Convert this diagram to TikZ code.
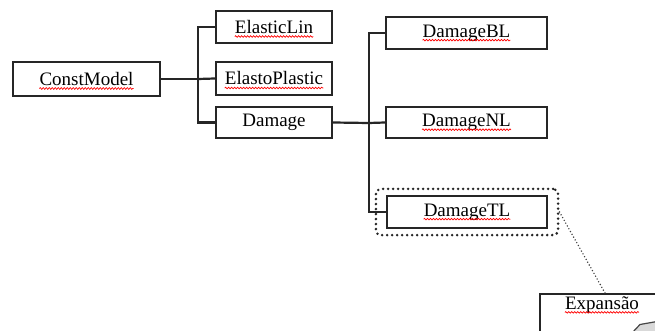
\documentclass[tikz,border=0pt]{standalone}
\usepackage{fontspec}
\newfontfamily\tnr{Liberation Serif}
\usetikzlibrary{fit,decorations.pathmorphing}
\begin{document}
\begin{tikzpicture}[x=1pt,y=-1pt,
  box/.style={draw=black!85, line width=2.2pt, fill=white, inner sep=0pt},
  txt/.style={inner sep=0pt, font=\tnr\fontsize{19}{21}\selectfont},
  wave/.style={draw=red, line width=0.7pt, decorate, decoration={snake, segment length=3pt, amplitude=0.8pt}},
  conn/.style={draw=black!85, line width=2.2pt},
  dotframe/.style={draw=black!85, line width=2.8pt, dash pattern=on 0pt off 5pt, line cap=round, rounded corners=5pt},
  dotline/.style={draw=black!75, line width=1.6pt, dash pattern=on 0pt off 3.2pt, line cap=round}]
\useasboundingbox (0,0) rectangle (655,331);
\fill[white] (0,0) rectangle (655,331);

\node[box, minimum width=147pt, minimum height=34pt] (cm) at (86.5,79) {};
\node[box, minimum width=116pt, minimum height=32pt] (el) at (274,27) {};
\node[box, minimum width=116pt, minimum height=33pt] (ep) at (274,78.5) {};
\node[box, minimum width=116pt, minimum height=31pt] (dm) at (274,122.5) {};
\node[box, minimum width=161pt, minimum height=32pt] (bl) at (466.5,33) {};
\node[box, minimum width=161pt, minimum height=31pt] (nl) at (466.5,122.5) {};
\node[box, minimum width=160pt, minimum height=32pt] (tl) at (467,212) {};

\node[txt] (cmt) at (cm) {ConstModel};
\node[txt] (elt) at (el) {ElasticLin};
\node[txt] (ept) at (ep) {ElastoPlastic};
\node[txt] (dmt) at (dm) {Damage};
\node[txt] (blt) at (bl) {DamageBL};
\node[txt] (nlt) at (nl) {DamageNL};
\node[txt] (tlt) at (tl) {DamageTL};

\foreach \t in {cmt,elt,ept,blt,nlt,tlt}{
  \draw[wave] ([yshift=-3pt]\t.base west) -- ([yshift=-3pt]\t.base east);
}

\coordinate (j1) at (198,79);
\coordinate (j2) at (369,123);
\draw[conn] (cm.east) -- (j1);
\draw[conn] (el.west) -| (j1) |- (dm.west);
\draw[conn] (j1) -- (ep.west);
\draw[conn] (dm.east) -- (j2);
\draw[conn] (bl.west) -| (j2) |- (tl.west);
\draw[conn] (j2) -- (nl.west);

\node[dotframe, fit=(tl), inner xsep=10pt, inner ysep=6pt] (fr) {};

% Expansion box (cut off at page edge)
\node[box, line width=1.8pt, anchor=north west, minimum width=140pt, minimum height=60pt] (exb) at (539,293) {};
\node[txt] (ex) at (602,305) {Expansão};
\draw[wave] ([yshift=-3pt]ex.base west) -- ([yshift=-3pt]ex.base east);
\coordinate (extop) at (605,293);
\draw[dotline] (fr.east) -- (extop);
\filldraw[fill=gray!30, draw=gray!55!black, line width=1.2pt] (632,333) -- (640,324.5) -- (657,321.5) -- (657,333) -- cycle;
\end{tikzpicture}
\end{document}
